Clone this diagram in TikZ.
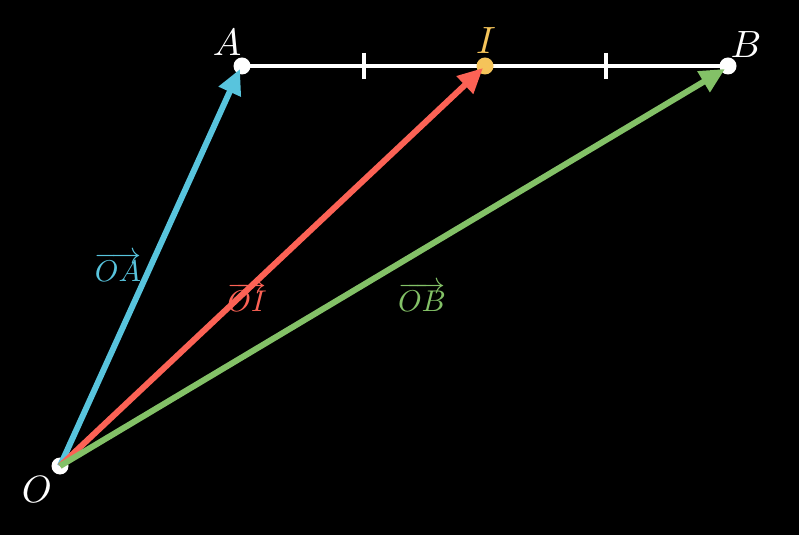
\documentclass[tikz,border=0pt]{standalone}
\usetikzlibrary{arrows.meta}
\definecolor{vblue}{HTML}{58C4DD}
\definecolor{vred}{HTML}{FC6255}
\definecolor{vgreen}{HTML}{83C167}
\definecolor{vgold}{HTML}{F5C45A}
\begin{document}
\begin{tikzpicture}[x=1pt,y=1pt,
  vec/.style={line width=6pt,-{Triangle[length=25pt,width=23pt]}},
  ptdot/.style={circle,fill=white,inner sep=0pt,minimum size=17pt},
  ptlabel/.style={text=white,scale=3.8,inner sep=0pt},
  veclabel/.style={scale=3.0,inner sep=0pt},
  tick/.style={white,line width=3.5pt}]
\fill[black] (0,0) rectangle (799,535);
\useasboundingbox (0,0) rectangle (799,535);
\coordinate (O) at (60,69);
\coordinate (A) at (242,469);
\coordinate (I) at (485,469);
\coordinate (B) at (728,469);
\coordinate (T1) at (364,469);
\coordinate (T2) at (606,469);
\draw[white,line width=3.5pt] (A) -- (B);
\draw[tick] ([yshift=13pt]T1) -- ([yshift=-13pt]T1);
\draw[tick] ([yshift=13pt]T2) -- ([yshift=-13pt]T2);
\node[ptdot] (dO) at (O) {};
\node[ptdot] (dA) at (A) {};
\node[ptdot] (dB) at (B) {};
\node[ptdot,fill=vgold] (dI) at (I) {};
\draw[vec,vblue] (O) -- ([xshift=-2pt,yshift=-3pt]A);
\draw[vec,vred] (O) -- ([xshift=-2pt,yshift=-2pt]I);
\draw[vec,vgreen] (O) -- ([xshift=-3pt,yshift=-3pt]B);
\node[ptlabel] (lO) at (37,45) {$O$};
\node[ptlabel] (lA) at (227,492) {$A$};
\node[ptlabel,text=vgold] (lI) at (486,494) {$I$};
\node[ptlabel] (lB) at (746,490) {$B$};
\node[veclabel,text=vblue] (lOA) at (118,268) {$\overrightarrow{OA}$};
\node[veclabel,text=vred] (lOI) at (247,238) {$\overrightarrow{OI}$};
\node[veclabel,text=vgreen] (lOB) at (422,238) {$\overrightarrow{OB}$};
\end{tikzpicture}
\end{document}
